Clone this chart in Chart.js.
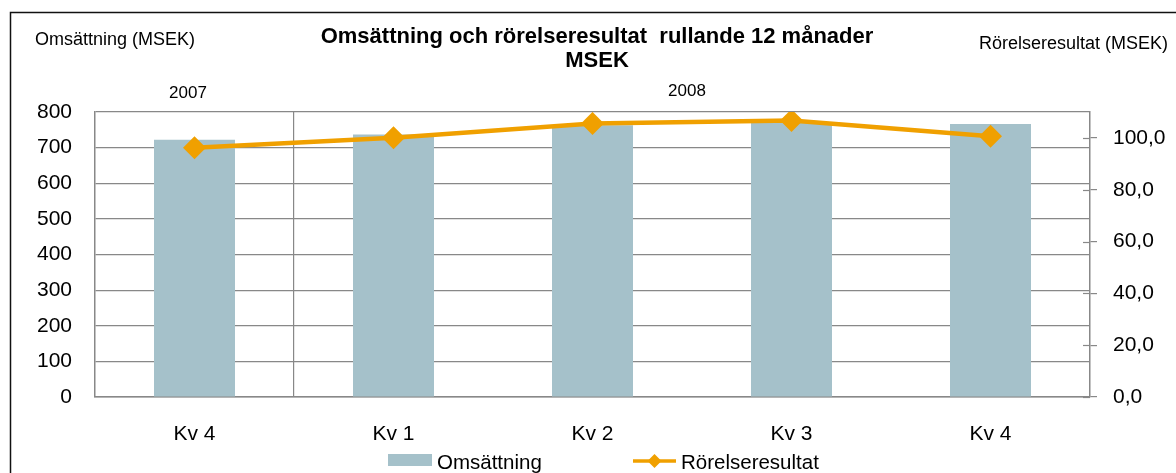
<!DOCTYPE html>
<html>
<head>
<meta charset="utf-8">
<script src="https://cdn.jsdelivr.net/npm/chart.js@4"></script>
<style>
  html, body { margin: 0; padding: 0; background: #fff; }
  #wrap { width: 1176px; height: 473px; }
</style>
</head>
<body>
<div id="wrap"><canvas id="chart"></canvas></div>
<script>
const quarters = ["Kv 4", "Kv 1", "Kv 2", "Kv 3", "Kv 4"];
const omsattning = [722, 737, 763, 770, 766];
const rorelseresultat = [96.2, 100.1, 105.6, 106.7, 100.6];
const years = [{ label: "2007", x: 188, y: 98 }, { label: "2008", x: 687, y: 96 }];

const barColor = "#a5c1ca";
const lineColor = "#f0a000";
const gridColor = "#888888";
const font = "'Liberation Sans', Arial, sans-serif";

// Texts, frame and legend around the plot
const decorations = {
  id: "decorations",
  afterDraw(chart) {
    const ctx = chart.ctx;
    const bars = chart.data.datasets.find(d => d.type === "bar");
    const line = chart.data.datasets.find(d => d.type === "line");
    ctx.save();
    ctx.strokeStyle = "#111";
    ctx.lineWidth = 1.5;
    ctx.strokeRect(10.5, 12.5, 1200, 500);

    // right axis tick marks also reach a bit into the plot
    const y1 = chart.scales.y1;
    ctx.strokeStyle = gridColor;
    ctx.lineWidth = 1.2;
    y1.ticks.forEach(t => {
      const py = Math.round(y1.getPixelForValue(t.value)) + 0.5;
      ctx.beginPath();
      ctx.moveTo(y1.left - 7, py);
      ctx.lineTo(y1.left, py);
      ctx.stroke();
    });

    ctx.fillStyle = "#000";
    ctx.textBaseline = "alphabetic";
    ctx.font = "18px " + font;
    ctx.textAlign = "left";
    ctx.fillText("Omsättning (MSEK)", 35, 45);
    ctx.textAlign = "right";
    ctx.fillText("Rörelseresultat (MSEK)", 1168, 49);

    ctx.textAlign = "center";
    ctx.font = "bold 22px " + font;
    ctx.fillText("Omsättning och rörelseresultat  rullande 12 månader", 597, 43);
    ctx.fillText("MSEK", 597, 67);

    ctx.font = "17px " + font;
    years.forEach(y => ctx.fillText(y.label, y.x, y.y));

    // legend
    ctx.fillStyle = bars.backgroundColor;
    ctx.fillRect(388, 454, 44, 12);
    ctx.strokeStyle = line.borderColor;
    ctx.lineWidth = 3.5;
    ctx.beginPath();
    ctx.moveTo(633, 461);
    ctx.lineTo(676, 461);
    ctx.stroke();
    ctx.fillStyle = line.borderColor;
    ctx.beginPath();
    ctx.moveTo(654.5, 454);
    ctx.lineTo(661.5, 461);
    ctx.lineTo(654.5, 468);
    ctx.lineTo(647.5, 461);
    ctx.closePath();
    ctx.fill();

    ctx.fillStyle = "#000";
    ctx.textAlign = "left";
    ctx.font = "20.5px " + font;
    ctx.fillText(bars.label, 437, 469);
    ctx.fillText(line.label, 681, 469);
    ctx.restore();
  }
};

new Chart(document.getElementById("chart"), {
  data: {
    labels: quarters,
    datasets: [
      {
        type: "line",
        label: "Rörelseresultat",
        data: rorelseresultat,
        yAxisID: "y1",
        borderColor: lineColor,
        backgroundColor: lineColor,
        borderWidth: 4.5,
        pointStyle: "rectRot",
        pointRadius: 11.5,
        pointBorderWidth: 0,
        pointBackgroundColor: lineColor,
        tension: 0,
        order: 1
      },
      {
        type: "bar",
        label: "Omsättning",
        data: omsattning,
        yAxisID: "y",
        backgroundColor: barColor,
        categoryPercentage: 1,
        barPercentage: 0.407,
        order: 2
      }
    ]
  },
  options: {
    responsive: true,
    maintainAspectRatio: false,
    animation: false,
    layout: { padding: { top: 112, left: 0, right: 0, bottom: 0 } },
    plugins: {
      legend: { display: false },
      tooltip: { enabled: false },
      title: { display: false }
    },
    scales: {
      x: {
        afterFit: s => { s.height = 76; },
        grid: {
          offset: true,
          drawTicks: false,
          color: c => (c.index === 1 ? gridColor : "rgba(0,0,0,0)"),
          lineWidth: 1.2
        },
        border: { display: true, color: gridColor, width: 1.5 },
        ticks: { color: "#000", padding: 25, font: { family: font, size: 21 } }
      },
      y: {
        position: "left",
        min: 0,
        max: 800,
        afterFit: s => { s.width = 95; },
        grid: { color: gridColor, lineWidth: 1.2, drawTicks: false },
        border: { display: true, color: gridColor, width: 1.5 },
        ticks: { stepSize: 100, color: "#000", padding: 23, font: { family: font, size: 21 } }
      },
      y1: {
        position: "right",
        min: 0,
        max: 110,
        bounds: "data",
        afterFit: s => { s.width = 86; },
        afterBuildTicks: s => { s.ticks = s.ticks.filter(t => t.value <= 100); },
        grid: { drawOnChartArea: false, drawTicks: true, tickLength: 7, color: gridColor, lineWidth: 1.2 },
        border: { display: true, color: gridColor, width: 1.5 },
        ticks: {
          stepSize: 20,
          color: "#000",
          padding: 16,
          font: { family: font, size: 21 },
          callback: v => v.toFixed(1).replace(".", ",")
        }
      }
    }
  },
  plugins: [decorations]
});
</script>
</body>
</html>
